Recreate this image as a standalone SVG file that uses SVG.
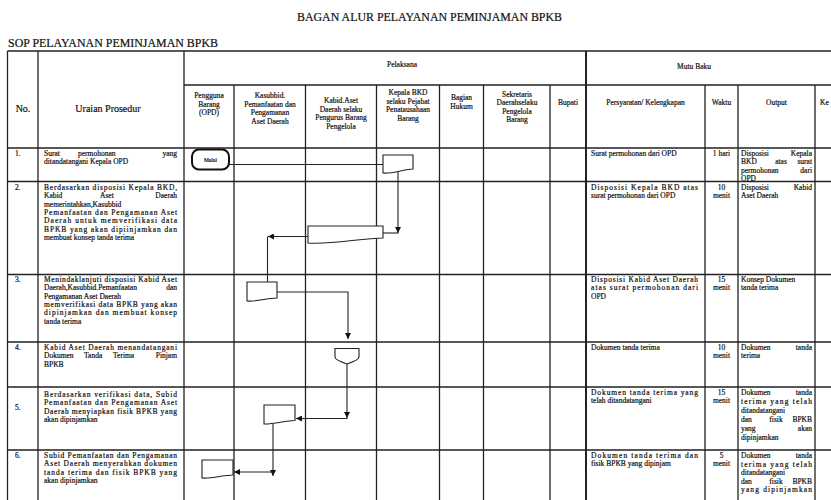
<svg xmlns="http://www.w3.org/2000/svg" width="831" height="500" viewBox="0 0 831 500">
<style>
text{font-family:"Liberation Serif","Times New Roman",serif;fill:#111;stroke:#111;stroke-width:0.2}
.t{font-size:7.5px}
.c{font-size:7.5px;text-anchor:middle}
.e{font-size:7.5px;text-anchor:end}
.hb{font-size:10px;text-anchor:middle}
.sm{font-size:7.5px;text-anchor:middle}
.g{stroke:#222;stroke-width:1.3;fill:none}
.gt{stroke:#222;stroke-width:2;fill:none}
.shape{fill:#fff;stroke:#222;stroke-width:1.1}
.term{fill:#fff;stroke:#111;stroke-width:2}
.cn{stroke:#222;stroke-width:1.1;fill:none}
</style>
<defs>
<marker id="ah" markerUnits="userSpaceOnUse" markerWidth="7" markerHeight="6" refX="6" refY="3" orient="auto">
<path d="M0,0 L6,3 L0,6 Z" fill="#111"/>
</marker>
</defs>
<rect width="831" height="500" fill="#fff"/>
<text x="297" y="21" font-size="11.5" textLength="265" lengthAdjust="spacingAndGlyphs">BAGAN ALUR PELAYANAN PEMINJAMAN BPKB</text>
<text x="8" y="47" font-size="11.5" textLength="210" lengthAdjust="spacingAndGlyphs">SOP PELAYANAN PEMINJAMAN BPKB</text>

<g id="table">
<path class="g" d="M7.5,51 H831 M184,85 H831 M7.5,148 H831 M7.5,181.5 H831 M7.5,274.5 H831 M7.5,342 H831 M7.5,387 H831 M7.5,450 H831"/>
<path class="g" d="M7.5,51 V500 M38,51 V500 M184,51 V500 M234,85 V500 M305.5,85 V500 M376.5,85 V500 M439.5,85 V500 M483.5,85 V500 M550,85 V500 M705,85 V500 M738,85 V500 M815,85 V500"/>
<path class="gt" d="M586,51 V500"/>
<text class="hb" x="23" y="112">No.</text>
<text class="hb" x="108" y="112">Uraian Prosedur</text>
<text class="sm" x="402" y="67">Pelaksana</text>
<text class="sm" x="694" y="69">Mutu Baku</text>
<text class="c" x="209" y="98">Pengguna</text>
<text class="c" x="209" y="106.5">Barang</text>
<text class="c" x="209" y="115">(OPD)</text>
<text class="c" x="270" y="98">Kasubbid.</text>
<text class="c" x="270" y="106.5">Pemanfaatan dan</text>
<text class="c" x="270" y="115">Pengamanan</text>
<text class="c" x="270" y="123.5">Aset Daerah</text>
<text class="c" x="341" y="103">Kabid.Aset</text>
<text class="c" x="341" y="111.5">Daerah  selaku</text>
<text class="c" x="341" y="120">Pengurus Barang</text>
<text class="c" x="341" y="128.5">Pengelola</text>
<text class="c" x="408" y="95">Kepala BKD</text>
<text class="c" x="408" y="103.5">selaku Pejabat</text>
<text class="c" x="408" y="112">Penatausahaan</text>
<text class="c" x="408" y="120.5">Barang</text>
<text class="c" x="461.5" y="100">Bagian</text>
<text class="c" x="461.5" y="108.5">Hukum</text>
<text class="c" x="517" y="96.5">Sekretaris</text>
<text class="c" x="517" y="105">Daerahselaku</text>
<text class="c" x="517" y="113.5">Pengelola</text>
<text class="c" x="517" y="122">Barang</text>
<text class="c" x="568" y="105">Bupati</text>
<text class="c" x="645.5" y="105">Persyaratan/ Kelengkapan</text>
<text class="c" x="721.5" y="105">Waktu</text>
<text class="c" x="776.5" y="105">Output</text>
<text class="t" x="820" y="105">Ke</text>

<!-- row 1 -->
<text class="t" x="15" y="156">1.</text>
<text class="t" x="44" y="156">Surat</text>
<text class="t" x="78" y="156">permohonan</text>
<text class="e" x="177" y="156">yang</text>
<text class="t" x="44" y="164.3">ditandatangani Kepala OPD</text>
<text class="t" x="591" y="156">Surat permohonan dari OPD</text>
<text class="c" x="721.5" y="156">1 hari</text>
<text class="t" x="741" y="156">Disposisi</text><text class="e" x="812" y="156">Kepala</text>
<text class="t" x="741" y="164.3">BKD</text><text class="c" x="781" y="164.3">atas</text><text class="e" x="812" y="164.3">surat</text>
<text class="t" x="741" y="172.6">permohonan</text><text class="e" x="812" y="172.6">dari</text>
<text class="t" x="741" y="180.9">OPD</text>

<!-- row 2 -->
<text class="t" x="15" y="190">2.</text>
<text class="t" x="44" y="190" textLength="133" lengthAdjust="spacing">Berdasarkan disposisi Kepala BKD,</text>
<text class="t" x="44" y="198.3">Kabid</text><text class="t" x="100" y="198.3">Aset</text><text class="e" x="177" y="198.3">Daerah</text>
<text class="t" x="44" y="206.6">memerintahkan,Kasubbid</text>
<text class="t" x="44" y="214.9" textLength="133" lengthAdjust="spacing">Pemanfaatan dan  Pengamanan Aset</text>
<text class="t" x="44" y="223.2" textLength="133" lengthAdjust="spacing">Daerah untuk memverifikasi data</text>
<text class="t" x="44" y="231.5" textLength="133" lengthAdjust="spacing">BPKB yang akan dipiinjamkan dan</text>
<text class="t" x="44" y="239.8">membuat konsep tanda terima</text>
<text class="t" x="591" y="190" textLength="107" lengthAdjust="spacing">Disposisi Kepala BKD atas</text>
<text class="t" x="591" y="198.3">surat permohonan dari OPD</text>
<text class="c" x="721.5" y="190">10</text>
<text class="c" x="721.5" y="198.3">menit</text>
<text class="t" x="741" y="190">Disposisi</text><text class="e" x="812" y="190">Kabid</text>
<text class="t" x="741" y="198.3">Aset Daerah</text>

<!-- row 3 -->
<text class="t" x="15" y="282">3.</text>
<text class="t" x="44" y="282" textLength="133" lengthAdjust="spacing">Menindaklanjuti disposisi Kabid Aset</text>
<text class="t" x="44" y="290.3">Daerah,Kasubbid.Pemanfaatan</text><text class="e" x="177" y="290.3">dan</text>
<text class="t" x="44" y="298.6">Pengamanan Aset Daerah</text>
<text class="t" x="44" y="306.9" textLength="133" lengthAdjust="spacing">memverifikasi data BPKB yang akan</text>
<text class="t" x="44" y="315.2" textLength="133" lengthAdjust="spacing">dipinjamkan dan membuat konsep</text>
<text class="t" x="44" y="323.5">tanda terima</text>
<text class="t" x="591" y="282" textLength="107" lengthAdjust="spacing">Disposisi Kabid Aset Daerah</text>
<text class="t" x="591" y="290.3" textLength="107" lengthAdjust="spacing">atas surat permohonan dari</text>
<text class="t" x="591" y="298.6">OPD</text>
<text class="c" x="721.5" y="282">15</text>
<text class="c" x="721.5" y="290.3">menit</text>
<text class="t" x="741" y="282">Konsep Dokumen</text>
<text class="t" x="741" y="290.3">tanda terima</text>

<!-- row 4 -->
<text class="t" x="15" y="350">4.</text>
<text class="t" x="44" y="350" textLength="133" lengthAdjust="spacing">Kabid Aset Daerah menandatangani</text>
<text class="t" x="44" y="358.3">Dokumen</text><text class="t" x="84" y="358.3">Tanda</text><text class="t" x="113" y="358.3">Terima</text><text class="e" x="177" y="358.3">Pinjam</text>
<text class="t" x="44" y="366.6">BPKB</text>
<text class="t" x="591" y="350">Dokumen tanda terima</text>
<text class="c" x="721.5" y="350">10</text>
<text class="c" x="721.5" y="358.3">menit</text>
<text class="t" x="741" y="350">Dokumen</text><text class="e" x="812" y="350">tanda</text>
<text class="t" x="741" y="358.3">terima</text>

<!-- row 5 -->
<text class="t" x="15" y="410">5.</text>
<text class="t" x="44" y="397" textLength="133" lengthAdjust="spacing">Berdasarkan verifikasi data, Subid</text>
<text class="t" x="44" y="405.3" textLength="133" lengthAdjust="spacing">Pemanfaatan dan Pengamanan Aset</text>
<text class="t" x="44" y="413.6" textLength="133" lengthAdjust="spacing">Daerah menyiapkan fisik BPKB yang</text>
<text class="t" x="44" y="421.9">akan dipinjamkan</text>
<text class="t" x="591" y="395" textLength="107" lengthAdjust="spacing">Dokumen tanda terima yang</text>
<text class="t" x="591" y="403.3">telah ditandatangani</text>
<text class="c" x="721.5" y="395">15</text>
<text class="c" x="721.5" y="403.3">menit</text>
<text class="t" x="741" y="395">Dokumen</text><text class="e" x="812" y="395">tanda</text>
<text class="t" x="741" y="404" textLength="71" lengthAdjust="spacing">terima yang telah</text>
<text class="t" x="741" y="413">ditandatangani</text>
<text class="t" x="741" y="422">dan</text><text class="c" x="776" y="422">fisik</text><text class="e" x="812" y="422">BPKB</text>
<text class="t" x="741" y="431">yang</text><text class="e" x="812" y="431">akan</text>
<text class="t" x="741" y="440">dipinjamkan</text>

<!-- row 6 -->
<text class="t" x="15" y="458">6.</text>
<text class="t" x="44" y="458" textLength="133" lengthAdjust="spacing">Subid Pemanfaatan dan Pengamanan</text>
<text class="t" x="44" y="466.3" textLength="133" lengthAdjust="spacing">Aset Daerah menyerahkan dokumen</text>
<text class="t" x="44" y="474.6" textLength="133" lengthAdjust="spacing">tanda terima dan fisik BPKB yang</text>
<text class="t" x="44" y="482.9">akan dipinjamkan</text>
<text class="t" x="591" y="458" textLength="107" lengthAdjust="spacing">Dokumen tanda terima dan</text>
<text class="t" x="591" y="466.3">fisik BPKB yang dipinjam</text>
<text class="c" x="721.5" y="458">5</text>
<text class="c" x="721.5" y="466.3">menit</text>
<text class="t" x="741" y="458">Dokumen</text><text class="e" x="812" y="458">tanda</text>
<text class="t" x="741" y="466.5" textLength="71" lengthAdjust="spacing">terima yang telah</text>
<text class="t" x="741" y="475">ditandatangani</text>
<text class="t" x="741" y="483.5">dan</text><text class="c" x="776" y="483.5">fisik</text><text class="e" x="812" y="483.5">BPKB</text>
<text class="t" x="741" y="492" textLength="71" lengthAdjust="spacing">yang dipinjamkan</text>
</g>

<g id="connectors">
<path class="cn" d="M229,164.5 H383"/>
<path class="cn" d="M398,171 V233" marker-end="url(#ah)"/>
<path class="cn" d="M398.5,233 H383"/>
<path class="cn" d="M308,236.5 H268" marker-end="url(#ah)"/>
<path class="cn" d="M267.5,236.5 V282"/>
<path class="cn" d="M277,292 H348 V339" marker-end="url(#ah)"/>
<path class="cn" d="M347,364 V418" marker-end="url(#ah)"/>
<path class="cn" d="M347.5,418.5 H296" marker-end="url(#ah)"/>
<path class="cn" d="M273,423 V476" marker-end="url(#ah)"/>
<path class="cn" d="M273.5,472 H234" marker-end="url(#ah)"/>
</g>

<g id="n1-mulai">
<rect class="term" x="192" y="149.5" width="37" height="20" rx="7"/>
<text x="210.5" y="161.5" font-size="5.5" text-anchor="middle">Mulai</text>
</g>
<g id="n1-kepala">
<path class="shape" d="M383,155 H413 V169 C405,169 392,174 383,173 Z"/>
</g>
<g id="n2-kabid">
<path class="shape" d="M308,226 H383 V238 C362,238 330,245 308,243 Z"/>
</g>
<g id="n3-kasubbid">
<path class="shape" d="M247,282 H277 V298 C268,298 256,302 247,301 Z"/>
</g>
<g id="n4-kabid">
<path class="shape" d="M335,348.5 H359 V357 Q359,360 347,364 Q335,360 335,357 Z"/>
</g>
<g id="n5-kasubbid">
<path class="shape" d="M264,405 H295 V420.5 C286,420.5 273,424.5 264,424 Z"/>
</g>
<g id="n6-pengguna">
<path class="shape" d="M202,460 H233 V475 C224,475 211,479 202,478 Z"/>
</g>
</svg>
